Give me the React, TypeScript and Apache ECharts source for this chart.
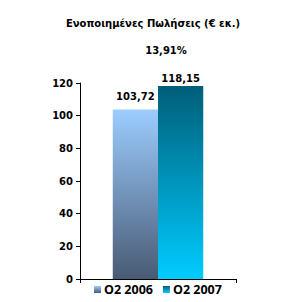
import React, { useEffect, useRef } from "react";
import * as echarts from "echarts";

const categories = [""];
const seriesNames = ["Q2 2006", "Q2 2007"];
const values2006 = [103.72];
const values2007 = [118.15];
const titleText = "Ενοποιημένες Πωλήσεις (€ εκ.)";
const subText = "13,91%";

const fmt = (v: number) => v.toFixed(2).replace(".", ",");

export default function App() {
  const ref = useRef<HTMLDivElement>(null);
  useEffect(() => {
    if (!ref.current) return;
    const chart = echarts.init(ref.current, undefined, { renderer: "svg" });
    const grad1 = new echarts.graphic.LinearGradient(0, 0, 0, 1, [
      { offset: 0, color: "#9CCDFF" },
      { offset: 1, color: "#495A73" },
    ]);
    const grad2 = new echarts.graphic.LinearGradient(0, 0, 0, 1, [
      { offset: 0, color: "#005E78" },
      { offset: 1, color: "#00CCFF" },
    ]);
    const font = "DejaVu Sans";
    chart.setOption({
      animation: false,
      title: [
        {
          text: titleText,
          left: 148,
          top: 13,
          textAlign: "center",
          textStyle: { fontFamily: font, fontWeight: "bold", fontSize: 10, color: "#000" },
        },
        {
          text: subText,
          left: 161,
          top: 40,
          textAlign: "center",
          textStyle: { fontFamily: font, fontWeight: "bold", fontSize: 10, color: "#000" },
        },
      ],
      legend: {
        bottom: 1,
        left: 89,
        itemWidth: 7,
        itemHeight: 7,
        itemGap: 10,
        icon: "rect",
        textStyle: { fontFamily: "Open Sans", fontWeight: "bold", fontSize: 12.5, color: "#000", padding: [0, 0, 0, -2] },
        data: seriesNames,
      },
      grid: { left: 80, right: 50, top: 83, bottom: 23 },
      xAxis: {
        type: "category",
        data: categories,
        axisLine: { lineStyle: { color: "#000", width: 1 } },
        axisTick: { show: true, length: 4, lineStyle: { color: "#000" } },
        axisLabel: { show: false },
      },
      yAxis: {
        type: "value",
        min: 0,
        max: 120,
        interval: 20,
        splitLine: { show: false },
        axisLine: { show: true, lineStyle: { color: "#000", width: 1 } },
        axisTick: { show: true, length: 4, lineStyle: { color: "#000" } },
        axisLabel: { fontFamily: font, fontWeight: "bold", fontSize: 10, color: "#000", margin: 7 },
      },
      series: [
        {
          name: seriesNames[0],
          type: "bar",
          data: values2006,
          barGap: "0%",
          barCategoryGap: "42%",
          itemStyle: { color: grad1 },
          label: {
            show: true,
            position: "top",
            distance: 8,
            fontFamily: font,
            fontWeight: "bold",
            fontSize: 10,
            color: "#000",
            formatter: (p: any) => fmt(p.value),
          },
        },
        {
          name: seriesNames[1],
          type: "bar",
          data: values2007,
          itemStyle: { color: grad2 },
          label: {
            show: true,
            position: "top",
            distance: 3,
            fontFamily: font,
            fontWeight: "bold",
            fontSize: 10,
            color: "#000",
            formatter: (p: any) => fmt(p.value),
          },
        },
      ],
    });
    return () => chart.dispose();
  }, []);
  return <div ref={ref} style={{ width: 286, height: 302, margin: -8 }} />;
}
